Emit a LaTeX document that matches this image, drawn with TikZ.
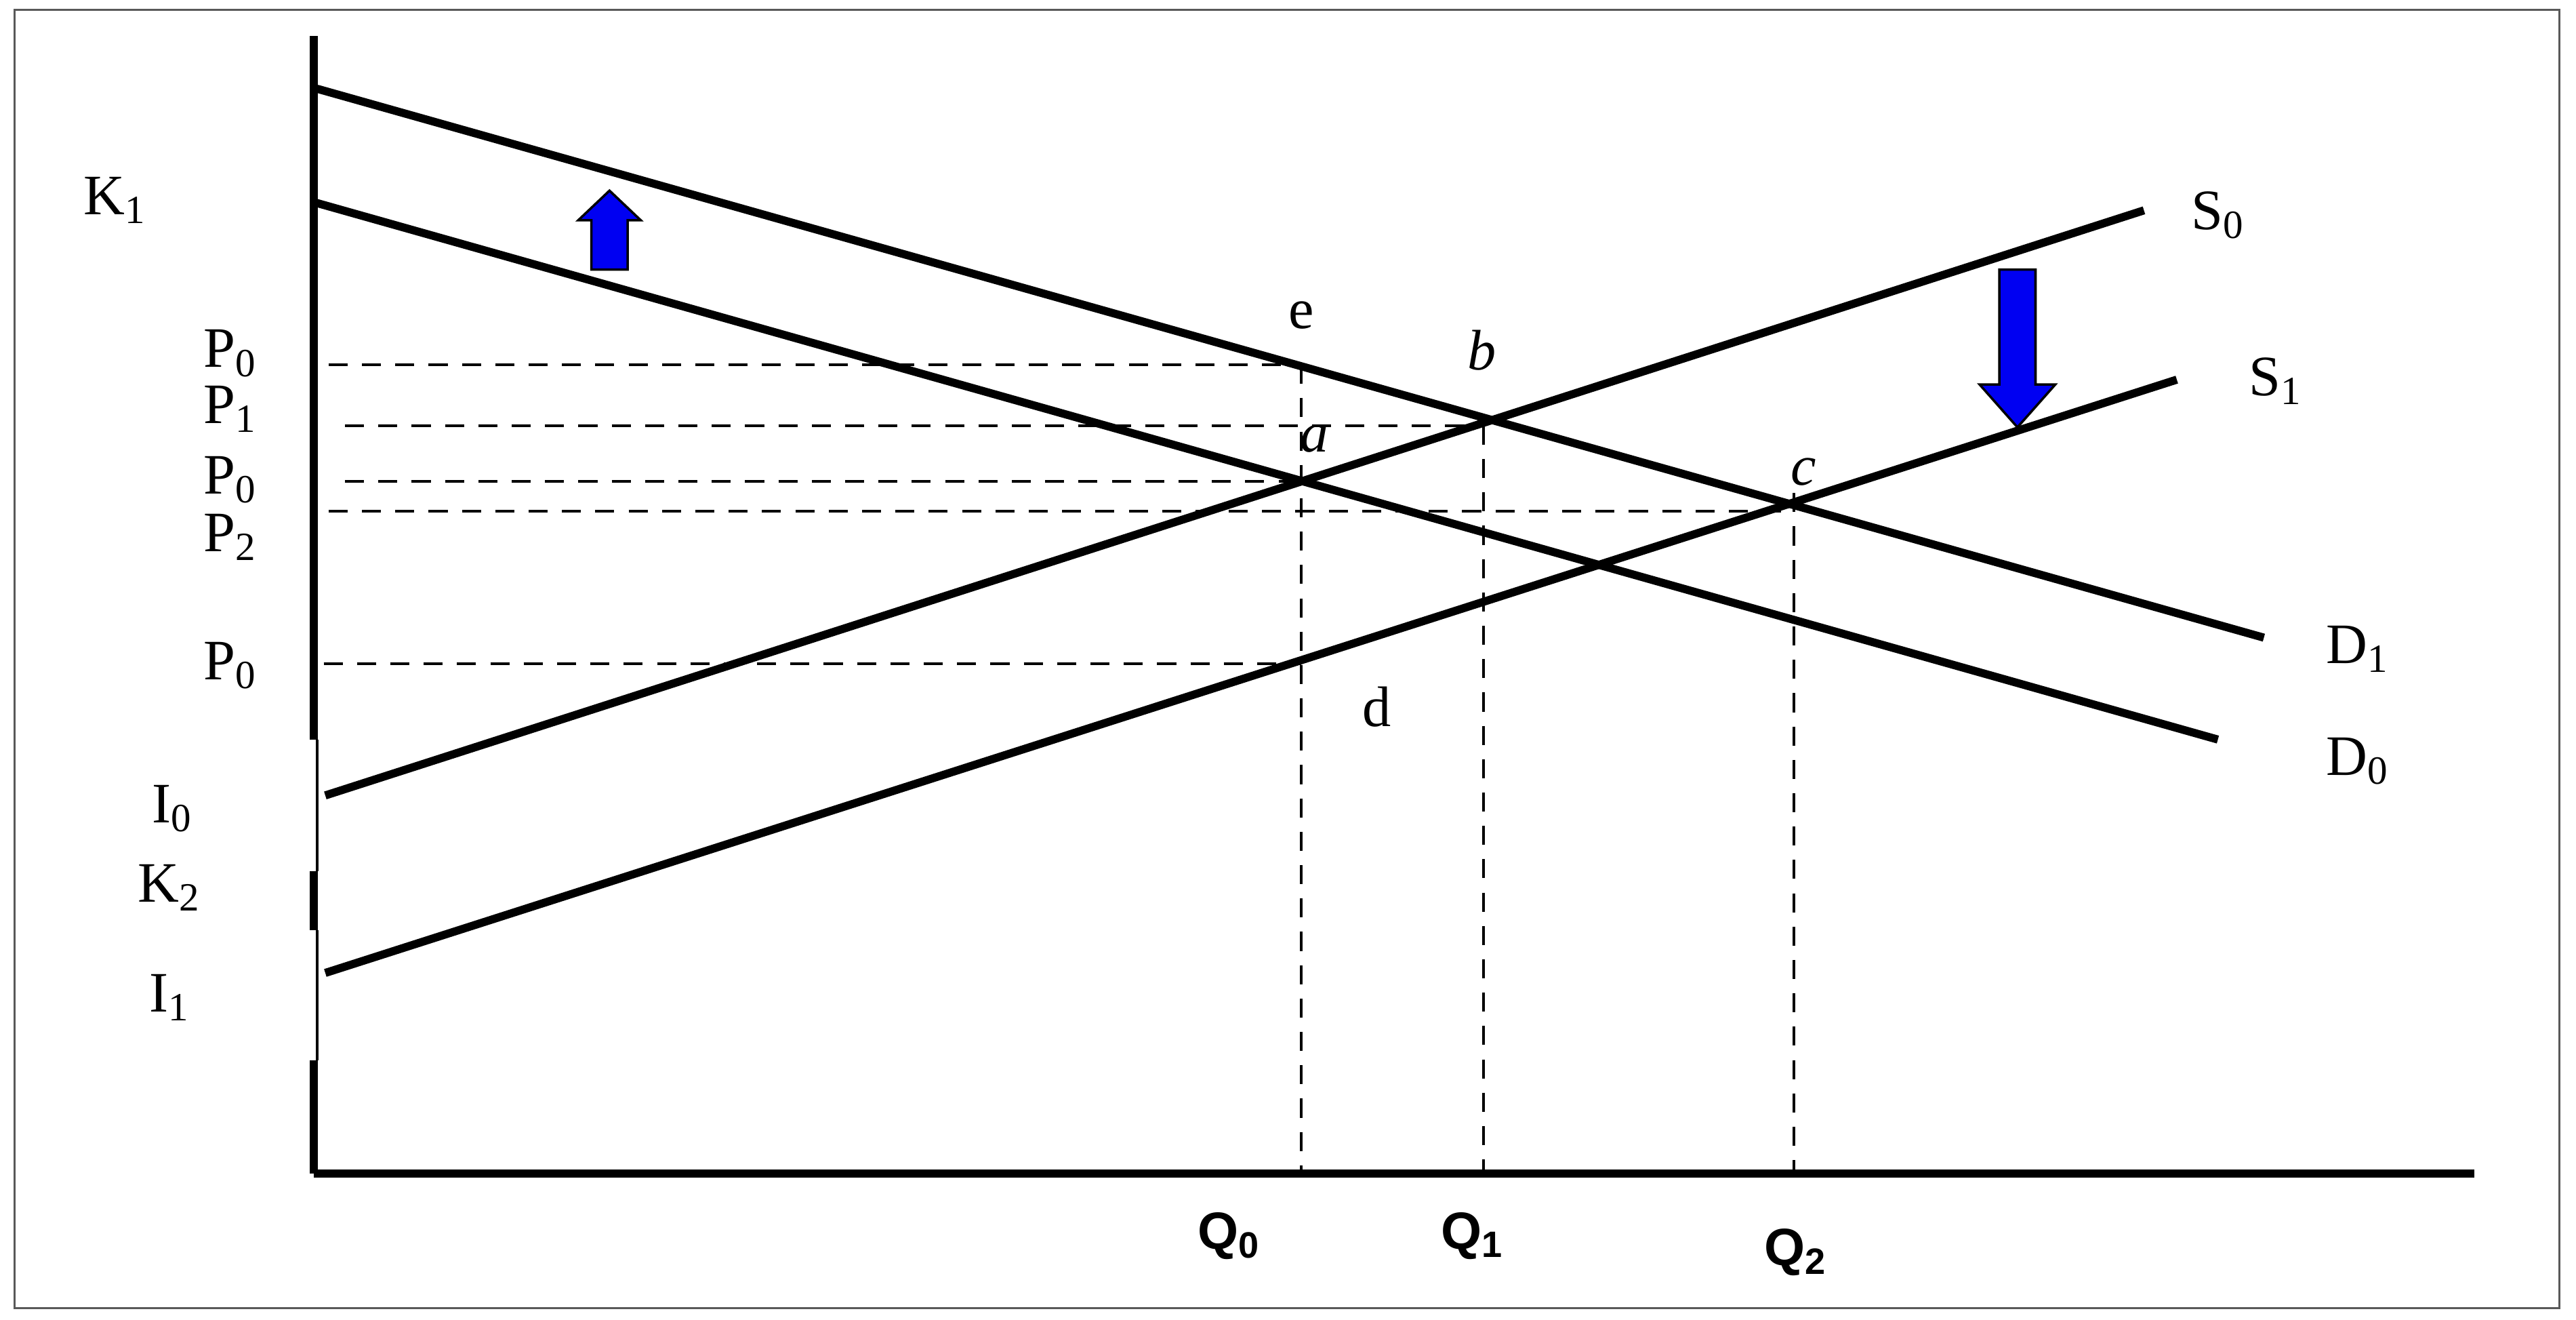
\documentclass[tikz,border=0pt]{standalone}
\usepackage{fontspec}
\setmainfont{Liberation Serif}
\newfontfamily\qfont{Liberation Sans}
\begin{document}
\begin{tikzpicture}[x=0.02424cm,y=-0.02424cm,
  curve/.style={line width=3.4pt},
  guide/.style={line width=1.2pt,dash pattern=on 8pt off 6pt},
  lab/.style={font=\fontsize{24}{28}\selectfont,inner sep=0pt},
  qlab/.style={font=\qfont\bfseries\fontsize{22}{26}\selectfont,inner sep=0pt},
  blue arrow/.style={draw=black,line width=1pt,fill=blue!95!black}]
\useasboundingbox (0,0) rectangle (1568,803);
\draw[line width=0.8pt,gray!70!black] (9,6) rectangle (1558,796);
% axes
\coordinate (O) at (191,714);
\coordinate (Xend) at (1506,714);
\draw[line width=3.4pt] (191,22) -- (191,450);
\draw[line width=1pt] (193,450) -- (193,530);
\draw[line width=3.4pt] (191,530) -- (191,566);
\draw[line width=1pt] (193,566) -- (193,645);
\draw[line width=3.4pt] (191,645) -- (O);
\draw[line width=3.4pt] (O) -- (Xend);
% curves
\coordinate (D1a) at (193,54);  \coordinate (D1b) at (1378,388);
\coordinate (D0a) at (191,123); \coordinate (D0b) at (1350,450);
\coordinate (S0a) at (198,484); \coordinate (S0b) at (1305,128);
\coordinate (S1a) at (198,592); \coordinate (S1b) at (1325,231);
\draw[curve] (D1a) -- (D1b);
\draw[curve] (D0a) -- (D0b);
\draw[curve] (S0a) -- (S0b);
\draw[curve] (S1a) -- (S1b);
% guides
\coordinate (g1) at (200,222); \coordinate (e1) at (792,222);
\coordinate (g2) at (210,259); \coordinate (b1) at (903,259);
\coordinate (g3) at (210,293); \coordinate (a1) at (792,293);
\coordinate (g4) at (200,311); \coordinate (c1) at (1092,311);
\coordinate (g5) at (197,404); \coordinate (d1) at (792,404);
\coordinate (q0) at (792,714); \coordinate (q1) at (903,714); \coordinate (q2) at (1092,714);
\coordinate (c0) at (1092,300);
\draw[guide] (g1) -- (e1);
\draw[guide] (g2) -- (b1);
\draw[guide] (g3) -- (a1);
\draw[guide] (g4) -- (c1);
\draw[guide] (g5) -- (d1);
\draw[guide] (e1) -- (q0);
\draw[guide] (b1) -- (q1);
\draw[guide] (c0) -- (q2);
% labels
\node[lab] (K1) at (70,122) {K\textsubscript{1}};
\node[lab] (P0a) at (140,215) {P\textsubscript{0}};
\node[lab] (P1) at (140,249) {P\textsubscript{1}};
\node[lab] (P0b) at (140,292) {P\textsubscript{0}};
\node[lab] (P2) at (140,327) {P\textsubscript{2}};
\node[lab] (P0c) at (140,405) {P\textsubscript{0}};
\node[lab] (I0) at (105,492) {I\textsubscript{0}};
\node[lab] (K2) at (103,540) {K\textsubscript{2}};
\node[lab] (I1) at (103,607) {I\textsubscript{1}};
\node[lab] (e) at (792,192) {e};
\node[lab] (b) at (902,213) {\textit{b}};
\node[lab] (a) at (800,267) {\textit{a}};
\node[lab] (c) at (1098,287) {\textit{c}};
\node[lab] (d) at (838,430) {d};
\node[lab] (S0) at (1350,131) {S\textsubscript{0}};
\node[lab] (S1) at (1385,232) {S\textsubscript{1}};
\node[lab] (D1) at (1435,395) {D\textsubscript{1}};
\node[lab] (D0) at (1435,463) {D\textsubscript{0}};
\node[qlab] (Q0) at (748,752) {Q\textsubscript{0}};
\node[qlab] (Q1) at (896,752) {Q\textsubscript{1}};
\node[qlab] (Q2) at (1093,762) {Q\textsubscript{2}};
% shift arrows
\draw[blue arrow] (360,164) -- (360,134) -- (352,134) -- (371,116) -- (390,134) -- (382,134) -- (382,164) -- cycle;
\draw[blue arrow] (1217,164) -- (1239,164) -- (1239,234) -- (1251,234) -- (1228,260) -- (1205,234) -- (1217,234) -- cycle;
\end{tikzpicture}
\end{document}
